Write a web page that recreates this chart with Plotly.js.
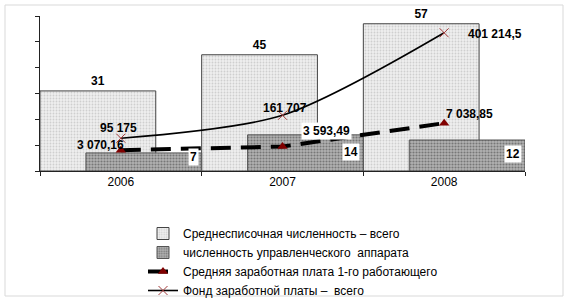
<!DOCTYPE html>
<html><head><meta charset="utf-8">
<script src="https://cdn.plot.ly/plotly-3.0.1.min.js"></script>
<style>html,body{margin:0;padding:0;background:#fff}#c{width:570px;height:301px}</style>
</head><body><div id="c"></div>
<script>
const years = ['2006', '2007', '2008'];
const headcount = [31, 45, 57];
const managementCount = [7, 14, 12];
const avgSalary = [3070.16, 3593.49, 7038.85];
const payrollFund = [95175, 161707, 401214.5];
const seriesNames = [
  'Среднесписочная численность – всего',
  'численность управленческого  аппарата',
  'Средняя заработная плата 1-го работающего',
  'Фонд заработной платы –  всего'
];

function fmt(v) {
  const parts = String(v).split('.');
  const int = parts[0].replace(/\B(?=(\d{3})+(?!\d))/g, ' ');
  return parts.length > 1 ? int + ',' + parts[1] : int;
}

const W = 570, H = 301, L = 40, R = 45, T = 16, B = 130;
const pw = W - L - R, ph = H - T - B;
const px = x => (x - L) / pw, py = y => (H - B - y) / ph;

const traces = [
  {type:'bar', x:years, y:headcount, name:seriesNames[0], offset:-0.5, width:0.716,
   marker:{color:'#eeeeee', line:{color:'#444', width:1},
     pattern:{shape:'.', fgcolor:'#cfcfcf', bgcolor:'#efefef', size:3, solidity:0.3}},
   text:headcount.map(String), textposition:'outside', cliponaxis:false,
   textfont:{family:'Liberation Sans, Arial', size:12, color:'#000', weight:'bold'}},
  {type:'bar', x:years, y:managementCount, name:seriesNames[1], offset:-0.216, width:0.716,
   marker:{color:'#a8a8a8', line:{color:'#555', width:1},
     pattern:{shape:'.', fgcolor:'#777', bgcolor:'#b2b2b2', size:3, solidity:0.4}},
   hoverinfo:'skip'},
  {type:'scatter', mode:'lines+markers', x:years, y:avgSalary, name:seriesNames[2], yaxis:'y2',
   line:{color:'#000', width:4, dash:'20px,10px'},
   marker:{symbol:'triangle-up', size:9, color:'#800000', line:{width:0}}},
  {type:'scatter', mode:'lines+markers', x:years, y:payrollFund, name:seriesNames[3], yaxis:'y3',
   line:{color:'#000', width:1.6, shape:'spline', smoothing:0.8},
   marker:{symbol:'x-thin-open', size:9, color:'#a33a3a', line:{color:'#a33a3a', width:1}}}
];

const lf = {family:'Liberation Sans, Arial', size:12, color:'#000', weight:'bold'};
const annotations = [];
const mgShift = [5, 1, 2];
managementCount.forEach((v, i) => annotations.push({
  x:i + 0.5, xref:'x', y:v / 2, yref:'y', text:String(v), showarrow:false,
  xanchor:'right', xshift:-3, yshift:mgShift[i], bgcolor:'#fff', font:lf, borderpad:1
}));
const salShift = [[-20, 5, 'center', 'rgba(0,0,0,0)'], [18, 16, 'left', '#fff'], [0, 9, 'left', 'rgba(0,0,0,0)']];
avgSalary.forEach((v, i) => annotations.push({
  x:i, xref:'x', y:v, yref:'y2', text:fmt(v), showarrow:false,
  xanchor:salShift[i][2], xshift:salShift[i][0], yshift:salShift[i][1],
  bgcolor:salShift[i][3], font:lf, borderpad:1
}));
const fundShift = [[-2, 10, 'center'], [2, 7, 'center'], [22, -1, 'left']];
payrollFund.forEach((v, i) => annotations.push({
  x:i, xref:'x', y:v, yref:'y3', text:fmt(v), showarrow:false,
  xanchor:fundShift[i][2], xshift:fundShift[i][0], yshift:fundShift[i][1], font:lf
}));

const layout = {
  width:W, height:H, margin:{l:L, r:R, t:T, b:B, autoexpand:false},
  paper_bgcolor:'#fff', plot_bgcolor:'rgba(0,0,0,0)',
  barmode:'overlay', showlegend:true,
  font:{family:'Liberation Sans, Arial', size:12, color:'#000'},
  xaxis:{type:'category', range:[-0.5, 2.5], showline:true, linecolor:'#222', linewidth:1,
    ticks:'outside', ticklen:4, tickcolor:'#222', tickson:'boundaries', showgrid:false,
    tickfont:{size:12}, fixedrange:true},
  yaxis:{range:[0, 60], dtick:10, showline:true, linecolor:'#222', linewidth:1,
    ticks:'outside', ticklen:4, tickcolor:'#222', showticklabels:false, showgrid:false, zeroline:false},
  yaxis2:{overlaying:'y', range:[0, 22800], visible:false},
  yaxis3:{overlaying:'y', range:[0, 450000], visible:false},
  legend:{x:px(143), y:py(219), xanchor:'left', yanchor:'top', bgcolor:'rgba(0,0,0,0)',
    font:{size:12}, tracegroupgap:0, itemwidth:30, traceorder:'normal'},
  annotations:annotations,
  shapes:[{type:'rect', xref:'paper', yref:'paper', x0:px(5), x1:px(563), y0:py(296), y1:py(5),
    line:{color:'#d9d9d9', width:1}, layer:'below'}]
};
Plotly.newPlot('c', traces, layout, {staticPlot:true, displayModeBar:false});
</script></body></html>
